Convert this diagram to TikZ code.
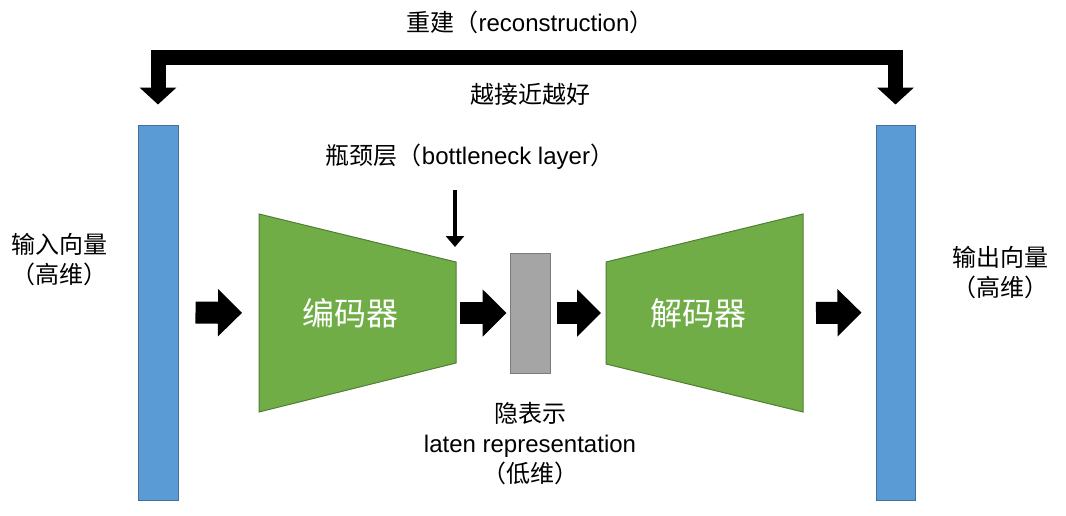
\documentclass[tikz,border=0pt]{standalone}
\usepackage{fontspec}
\setmainfont{Liberation Sans}
\newfontfamily\cjk{Noto Sans CJK SC}
\usetikzlibrary{arrows.meta,positioning,calc}
\definecolor{aeblue}{HTML}{5B9BD5}
\definecolor{aeblueline}{HTML}{41719C}
\definecolor{aegreen}{HTML}{70AD47}
\definecolor{aegreenline}{HTML}{507E32}
\definecolor{aegray}{HTML}{A5A5A5}
\definecolor{aegrayline}{HTML}{7C7C7C}
\tikzset{
  aebar/.style={draw=aeblueline, fill=aeblue, line width=1pt, minimum width=40pt, minimum height=375pt, inner sep=0pt},
  aecoder/.style={draw=aegreenline, fill=aegreen, line width=1pt},
  aelatent/.style={draw=aegrayline, fill=aegray, line width=1pt, minimum width=40pt, minimum height=120pt, inner sep=0pt},
  aelabel/.style={font=\fontsize{24}{30}\selectfont, align=center, inner sep=0pt},
  aecodetext/.style={font=\fontsize{32}{38}\selectfont\cjk, text=white, inner sep=0pt},
  aeblock/.style={-{Triangle[length=24pt,width=46pt]}, line width=22pt},
  aethin/.style={-{Triangle[length=11pt,width=18pt]}, line width=3.5pt},
  aerecon/.style={{Triangle[length=17pt,width=36pt]}-{Triangle[length=17pt,width=36pt]}, line width=15pt, line join=miter}
}
\begin{document}
\begin{tikzpicture}[x=1pt,y=-1pt]
  \useasboundingbox (0,0) rectangle (1066,515);

  % input and output vectors
  \node[aebar] (inbar) at (158,312.5) {};
  \node[aebar, minimum width=39pt] (outbar) at (895.5,312.5) {};
  \node[aelabel] (inlabel) at (60,260) {\cjk 输入向量\\\cjk （高维）};
  \node[aelabel] (outlabel) at (1000,273) {\cjk 输出向量\\\cjk （高维）};

  % encoder / decoder
  \draw[aecoder] (259,214) -- (456,262) -- (456,363) -- (259,412) -- cycle;
  \draw[aecoder] (606,262) -- (803,214) -- (803,412) -- (606,364) -- cycle;
  \coordinate (encL) at (259,313);
  \coordinate (encR) at (456,313);
  \coordinate (decL) at (606,313);
  \coordinate (decR) at (803,313);
  \node[aecodetext] (enc) at (350,313) {编码器};
  \node[aecodetext] (dec) at (698,313) {解码器};

  % latent
  \node[aelatent] (latent) at (530,313) {};
  \node[aelabel] (latlabel) at (530,444) {\cjk 隐表示\\laten representation\\\cjk （低维）};

  \draw[aeblock, shorten <=17pt, shorten >=17pt] (inbar.east) -- (encL);
  \draw[aeblock, shorten <=4pt, shorten >=3pt] (encR) -- (latent.west);
  \draw[aeblock, shorten <=6pt, shorten >=5pt] (latent.east) -- (decL);
  \draw[aeblock, shorten <=13pt, shorten >=14pt] (decR) -- (outbar.west);

  % bottleneck
  \node[aelabel] (bnlabel) at (470,157) {{\cjk 瓶颈层（}bottleneck layer{\cjk ）}};
  \coordinate (bnstart) at (455,190);
  \draw[aethin] (bnstart) -- (455,247);

  % reconstruction
  \node[aelabel] (reclabel) at (530,22) {{\cjk 重建（}reconstruction{\cjk ）}};
  \node[aelabel] (closer) at (530,94) {\cjk 越接近越好};
  \coordinate (ltop) at (158,57);
  \draw[aerecon] ([yshift=20pt]inbar.north) -- (ltop) -| ([yshift=20pt]outbar.north);
\end{tikzpicture}
\end{document}
